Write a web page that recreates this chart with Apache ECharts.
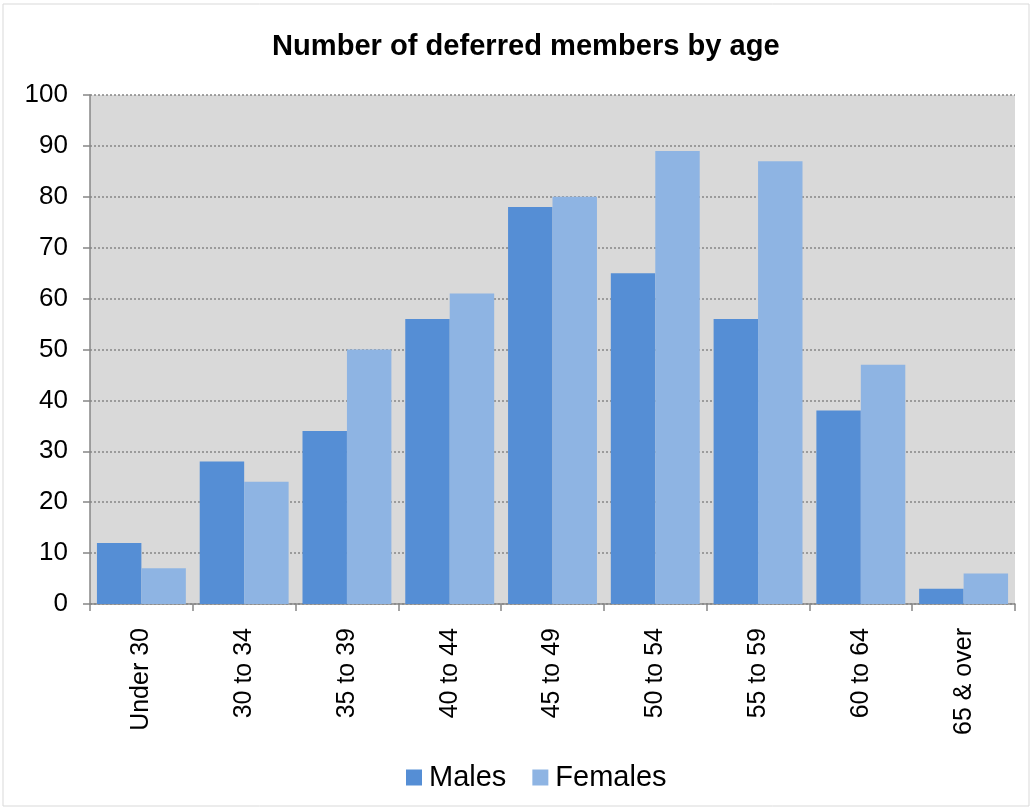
<!DOCTYPE html>
<html>
<head>
<meta charset="utf-8">
<script src="https://cdn.jsdelivr.net/npm/echarts@6/dist/echarts.min.js"></script>
<style>
html,body{margin:0;padding:0;background:#fff;}
#container{width:1033px;height:810px;}
</style>
</head>
<body>
<div id="container"></div>
<script>
var categories = ['Under 30','30 to 34','35 to 39','40 to 44','45 to 49','50 to 54','55 to 59','60 to 64','65 & over'];
var males = [12, 28, 34, 56, 78, 65, 56, 38, 3];
var females = [7, 24, 50, 61, 80, 89, 87, 47, 6];

var chart = echarts.init(document.getElementById('container'));
var font = 'Liberation Sans, Arial, sans-serif';
var option = {
	backgroundColor: '#fff',
	textStyle: { fontFamily: font },
	title: {
		text: 'Number of deferred members by age',
		left: 267,
		top: 27,
		textStyle: { fontSize: 29.1, fontWeight: 'bold', color: '#000', fontFamily: font }
	},
	graphic: [{
		type: 'rect',
		shape: { x: 3, y: 4, width: 1026, height: 802 },
		style: { fill: 'none', stroke: '#d9d9d9', lineWidth: 1 },
		silent: true
	}],
	legend: {
		top: 758,
		left: 401,
		itemWidth: 16,
		itemHeight: 16,
		itemGap: 26,
		icon: 'rect',
		textStyle: { fontSize: 29, color: '#000', fontFamily: font, padding: [0, 0, 0, 2] },
		data: ['Males', 'Females']
	},
	grid: {
		left: 90,
		right: 18,
		top: 95,
		bottom: 206,
		containLabel: false,
		show: true,
		backgroundColor: '#d9d9d9',
		borderWidth: 0
	},
	xAxis: {
		type: 'category',
		data: categories,
		axisLine: { lineStyle: { color: '#868686', width: 1.5 } },
		axisTick: { show: true, length: 7, lineStyle: { color: '#868686', width: 1.5 } },
		axisLabel: { rotate: 90, fontSize: 25, color: '#000', margin: 24, fontFamily: font }
	},
	yAxis: {
		type: 'value',
		min: 0,
		max: 100,
		interval: 10,
		axisLine: { show: true, lineStyle: { color: '#868686', width: 1.5 } },
		axisTick: { show: true, length: 7, lineStyle: { color: '#868686', width: 1.5 } },
		axisLabel: { fontSize: 26, color: '#000', margin: 22, fontFamily: font },
		splitLine: { show: true, lineStyle: { color: '#868686', type: [2, 2], width: 1.5 } }
	},
	series: [{
		name: 'Males',
		type: 'bar',
		data: males,
		barGap: '0%',
		barCategoryGap: '13.5%',
		itemStyle: { color: '#558ed5' }
	}, {
		name: 'Females',
		type: 'bar',
		data: females,
		itemStyle: { color: '#8eb4e3' }
	}]
};
chart.setOption(option);
</script>
</body>
</html>
